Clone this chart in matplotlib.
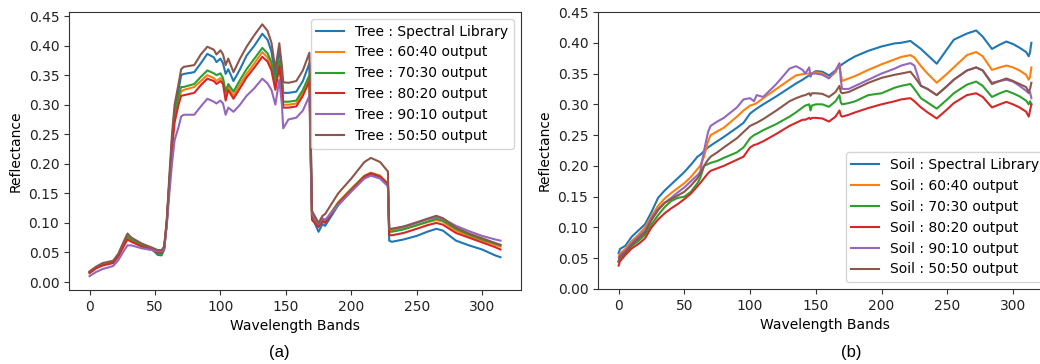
import matplotlib
matplotlib.use("Agg")
import matplotlib.pyplot as plt

# ---------------- Tree (a) ----------------
tree_bands = [0, 5, 10, 18, 22, 26, 29, 32, 40, 48, 52, 55, 57, 59, 61, 63, 65, 68, 70, 72,
              80, 85, 90, 95, 97, 100, 102, 104, 106, 110, 115, 120, 126, 132, 136, 139, 142,
              145, 147, 148, 152, 158, 163, 168, 169, 170, 175, 178, 180, 190, 200, 210, 215,
              222, 228, 229, 231, 240, 250, 258, 265, 270, 280, 290, 300, 310, 314]

tree_library = [0.017, 0.025, 0.030, 0.034, 0.045, 0.063, 0.074, 0.070, 0.062, 0.055, 0.046, 0.045,
                0.055, 0.10, 0.17, 0.24, 0.29, 0.325, 0.35, 0.352, 0.355, 0.37, 0.386, 0.38, 0.372,
                0.378, 0.37, 0.352, 0.36, 0.34, 0.36, 0.383, 0.40, 0.42, 0.41, 0.39, 0.345, 0.395,
                0.35, 0.32, 0.32, 0.322, 0.34, 0.37, 0.25, 0.11, 0.085, 0.098, 0.095, 0.13, 0.155,
                0.178, 0.183, 0.178, 0.165, 0.07, 0.068, 0.072, 0.078, 0.085, 0.09, 0.087, 0.07,
                0.062, 0.055, 0.045, 0.042]
tree_6040 = [0.017, 0.025, 0.030, 0.034, 0.045, 0.063, 0.074, 0.070, 0.062, 0.056, 0.050, 0.050,
             0.058, 0.10, 0.17, 0.23, 0.28, 0.31, 0.322, 0.325, 0.33, 0.34, 0.35, 0.345, 0.34,
             0.345, 0.34, 0.315, 0.33, 0.315, 0.335, 0.352, 0.37, 0.389, 0.38, 0.365, 0.33, 0.37,
             0.33, 0.30, 0.30, 0.302, 0.32, 0.345, 0.22, 0.11, 0.095, 0.105, 0.103, 0.135, 0.158,
             0.18, 0.185, 0.18, 0.167, 0.088, 0.087, 0.09, 0.096, 0.101, 0.105, 0.102, 0.087,
             0.078, 0.07, 0.063, 0.06]
tree_7030 = [0.016, 0.024, 0.029, 0.033, 0.046, 0.065, 0.077, 0.072, 0.062, 0.055, 0.048, 0.047,
             0.056, 0.10, 0.17, 0.235, 0.285, 0.315, 0.33, 0.33, 0.335, 0.347, 0.358, 0.353, 0.35,
             0.353, 0.345, 0.322, 0.335, 0.322, 0.342, 0.36, 0.378, 0.396, 0.387, 0.372, 0.335,
             0.375, 0.335, 0.305, 0.305, 0.307, 0.325, 0.35, 0.22, 0.11, 0.094, 0.104, 0.102,
             0.134, 0.157, 0.179, 0.184, 0.179, 0.166, 0.085, 0.085, 0.089, 0.096, 0.102, 0.107,
             0.104, 0.09, 0.08, 0.072, 0.065, 0.062]
tree_8020 = [0.015, 0.023, 0.028, 0.032, 0.043, 0.06, 0.072, 0.068, 0.06, 0.054, 0.05, 0.05,
             0.056, 0.10, 0.165, 0.225, 0.27, 0.30, 0.315, 0.316, 0.32, 0.333, 0.344, 0.34, 0.335,
             0.34, 0.335, 0.307, 0.325, 0.31, 0.328, 0.346, 0.363, 0.381, 0.373, 0.358, 0.325,
             0.365, 0.325, 0.295, 0.295, 0.297, 0.315, 0.34, 0.22, 0.105, 0.093, 0.103, 0.1,
             0.132, 0.155, 0.178, 0.184, 0.178, 0.165, 0.08, 0.079, 0.083, 0.09, 0.096, 0.1,
             0.097, 0.083, 0.075, 0.067, 0.059, 0.055]
tree_9010 = [0.010, 0.017, 0.022, 0.027, 0.037, 0.052, 0.062, 0.062, 0.057, 0.054, 0.052, 0.052,
             0.057, 0.095, 0.15, 0.2, 0.24, 0.262, 0.28, 0.283, 0.283, 0.297, 0.31, 0.305, 0.302,
             0.307, 0.302, 0.283, 0.295, 0.288, 0.3, 0.315, 0.328, 0.344, 0.336, 0.325, 0.30,
             0.342, 0.30, 0.26, 0.275, 0.278, 0.29, 0.315, 0.2, 0.115, 0.098, 0.108, 0.105, 0.13,
             0.153, 0.175, 0.18, 0.175, 0.162, 0.09, 0.09, 0.093, 0.1, 0.106, 0.11, 0.107, 0.095,
             0.086, 0.078, 0.072, 0.07]
tree_5050 = [0.018, 0.026, 0.032, 0.036, 0.048, 0.068, 0.082, 0.075, 0.065, 0.058, 0.054, 0.054,
             0.06, 0.105, 0.18, 0.25, 0.3, 0.335, 0.36, 0.364, 0.367, 0.385, 0.398, 0.393, 0.385,
             0.392, 0.385, 0.367, 0.378, 0.355, 0.378, 0.398, 0.418, 0.436, 0.425, 0.405, 0.36,
             0.404, 0.365, 0.338, 0.337, 0.34, 0.358, 0.388, 0.25, 0.12, 0.1, 0.112, 0.115, 0.15,
             0.175, 0.203, 0.21, 0.203, 0.187, 0.09, 0.09, 0.094, 0.101, 0.107, 0.112, 0.108,
             0.092, 0.082, 0.074, 0.066, 0.063]

tree_labels = ["Tree : Spectral Library", "Tree : 60:40 output", "Tree : 70:30 output",
               "Tree : 80:20 output", "Tree : 90:10 output", "Tree : 50:50 output"]

# ---------------- Soil (b) ----------------
soil_bands = [0, 1, 5, 10, 15, 20, 25, 30, 35, 40, 45, 50, 55, 60, 62, 65, 68, 70, 75, 80, 90, 95,
              100, 103, 105, 110, 120, 130, 135, 140, 142, 145, 146, 147, 150, 155, 160, 165, 168,
              169, 170, 175, 180, 190, 200, 210, 215, 222, 225, 230, 235, 242, 250, 255, 265, 272,
              277, 284, 290, 295, 300, 305, 310, 312, 313, 314]

soil_library = [0.058, 0.065, 0.07, 0.085, 0.095, 0.105, 0.125, 0.148, 0.16, 0.17, 0.18, 0.19,
                0.202, 0.215, 0.218, 0.224, 0.23, 0.233, 0.24, 0.247, 0.262, 0.27, 0.285, 0.29,
                0.293, 0.3, 0.313, 0.327, 0.334, 0.34, 0.343, 0.347, 0.348, 0.35, 0.354, 0.353,
                0.347, 0.355, 0.362, 0.363, 0.365, 0.372, 0.378, 0.387, 0.394, 0.399, 0.4, 0.403,
                0.398, 0.39, 0.38, 0.366, 0.39, 0.405, 0.415, 0.42, 0.41, 0.39, 0.397, 0.402,
                0.398, 0.392, 0.385, 0.378, 0.385, 0.40]
soil_6040 = [0.052, 0.058, 0.065, 0.078, 0.088, 0.1, 0.118, 0.135, 0.147, 0.156, 0.164, 0.172,
             0.182, 0.195, 0.2, 0.215, 0.24, 0.25, 0.256, 0.262, 0.28, 0.29, 0.298, 0.3, 0.302,
             0.31, 0.325, 0.34, 0.347, 0.349, 0.35, 0.35, 0.35, 0.35, 0.352, 0.35, 0.343, 0.352,
             0.365, 0.35, 0.338, 0.342, 0.346, 0.356, 0.365, 0.373, 0.377, 0.38, 0.376, 0.362,
             0.35, 0.335, 0.35, 0.36, 0.38, 0.385, 0.378, 0.356, 0.36, 0.363, 0.36, 0.355, 0.348,
             0.34, 0.345, 0.36]
soil_7030 = [0.044, 0.05, 0.058, 0.07, 0.078, 0.088, 0.105, 0.12, 0.133, 0.143, 0.148, 0.15,
             0.158, 0.172, 0.18, 0.2, 0.203, 0.205, 0.208, 0.213, 0.222, 0.23, 0.245, 0.25, 0.252,
             0.258, 0.268, 0.28, 0.287, 0.295, 0.298, 0.3, 0.29, 0.298, 0.3, 0.3, 0.296, 0.305,
             0.315, 0.303, 0.3, 0.302, 0.305, 0.315, 0.318, 0.327, 0.33, 0.333, 0.325, 0.31,
             0.303, 0.293, 0.308, 0.318, 0.332, 0.337, 0.33, 0.312, 0.318, 0.322, 0.318, 0.313,
             0.306, 0.3, 0.305, 0.3]
soil_8020 = [0.038, 0.045, 0.055, 0.066, 0.073, 0.082, 0.1, 0.113, 0.123, 0.131, 0.138, 0.146,
             0.155, 0.167, 0.172, 0.18, 0.188, 0.192, 0.196, 0.2, 0.21, 0.215, 0.23, 0.234, 0.235,
             0.24, 0.252, 0.265, 0.27, 0.275, 0.275, 0.278, 0.276, 0.278, 0.278, 0.277, 0.272,
             0.28, 0.29, 0.282, 0.28, 0.283, 0.287, 0.294, 0.3, 0.305, 0.308, 0.31, 0.305, 0.295,
             0.287, 0.277, 0.292, 0.302, 0.315, 0.318, 0.312, 0.295, 0.3, 0.304, 0.3, 0.295,
             0.288, 0.28, 0.29, 0.3]
soil_9010 = [0.045, 0.055, 0.062, 0.075, 0.085, 0.095, 0.115, 0.13, 0.14, 0.148, 0.157, 0.165,
             0.175, 0.185, 0.19, 0.225, 0.255, 0.265, 0.272, 0.278, 0.295, 0.308, 0.31, 0.305,
             0.315, 0.312, 0.333, 0.358, 0.362, 0.356, 0.35, 0.36, 0.345, 0.35, 0.35, 0.348,
             0.342, 0.355, 0.367, 0.34, 0.325, 0.325, 0.33, 0.34, 0.35, 0.358, 0.363, 0.367,
             0.363, 0.33, 0.325, 0.315, 0.33, 0.34, 0.355, 0.36, 0.355, 0.335, 0.338, 0.34,
             0.337, 0.33, 0.322, 0.318, 0.32, 0.31]
soil_5050 = [0.045, 0.052, 0.06, 0.072, 0.082, 0.092, 0.112, 0.128, 0.14, 0.146, 0.152, 0.158,
             0.168, 0.18, 0.187, 0.2, 0.21, 0.215, 0.222, 0.23, 0.245, 0.255, 0.265, 0.268, 0.27,
             0.276, 0.29, 0.305, 0.31, 0.314, 0.315, 0.318, 0.314, 0.318, 0.318, 0.317, 0.312,
             0.32, 0.33, 0.32, 0.318, 0.32, 0.325, 0.335, 0.343, 0.348, 0.35, 0.353, 0.345,
             0.33, 0.325, 0.315, 0.33, 0.34, 0.355, 0.36, 0.355, 0.333, 0.338, 0.342, 0.338,
             0.333, 0.328, 0.32, 0.325, 0.335]

soil_labels = ["Soil : Spectral Library", "Soil : 60:40 output", "Soil : 70:30 output",
               "Soil : 80:20 output", "Soil : 90:10 output", "Soil : 50:50 output"]

yticks = [0.00, 0.05, 0.10, 0.15, 0.20, 0.25, 0.30, 0.35, 0.40, 0.45]
xticks = [0, 50, 100, 150, 200, 250, 300]

plt.rcParams['font.family'] = ['DejaVu Sans']
plt.rcParams['font.size'] = 10

fig = plt.figure(figsize=(10.4, 3.64), dpi=100)
W, H = 1040, 364

ax1 = fig.add_axes([69 / W, (H - 290) / H, (521 - 69) / W, (290 - 12) / H])
ax2 = fig.add_axes([598 / W, (H - 289) / H, (1052 - 598) / W, (289 - 12) / H])

tree_series = [tree_library, tree_6040, tree_7030, tree_8020, tree_9010, tree_5050]
soil_series = [soil_library, soil_6040, soil_7030, soil_8020, soil_9010, soil_5050]

for ys, lab in zip(tree_series, tree_labels):
    ax1.plot(tree_bands, ys, label=lab, lw=1.5)
for ys, lab in zip(soil_series, soil_labels):
    ax2.plot(soil_bands, ys, label=lab, lw=1.5)

ax1.set_ylim(-0.0135, 0.4568)
ax2.set_ylim(0.0, 0.45)
for ax in (ax1, ax2):
    ax.set_xlim(-15.7, 329.7)
    ax.set_yticks(yticks)
    ax.set_xticks(xticks)
    ax.set_xlabel("Wavelength Bands")
    ax.set_ylabel("Reflectance")
    ax.tick_params(colors='#333333', labelcolor='#222222')
    for sp in ax.spines.values():
        sp.set_color('#333333')

ax1.legend(loc='upper right')
ax2.legend(loc='lower right')

fig.text(279 / W, 1 - 352 / H, "(a)", ha='center', va='center', fontsize=12, family='Liberation Sans')
fig.text(851 / W, 1 - 352 / H, "(b)", ha='center', va='center', fontsize=12, family='Liberation Sans')

fig.savefig("out.png", dpi=100)
